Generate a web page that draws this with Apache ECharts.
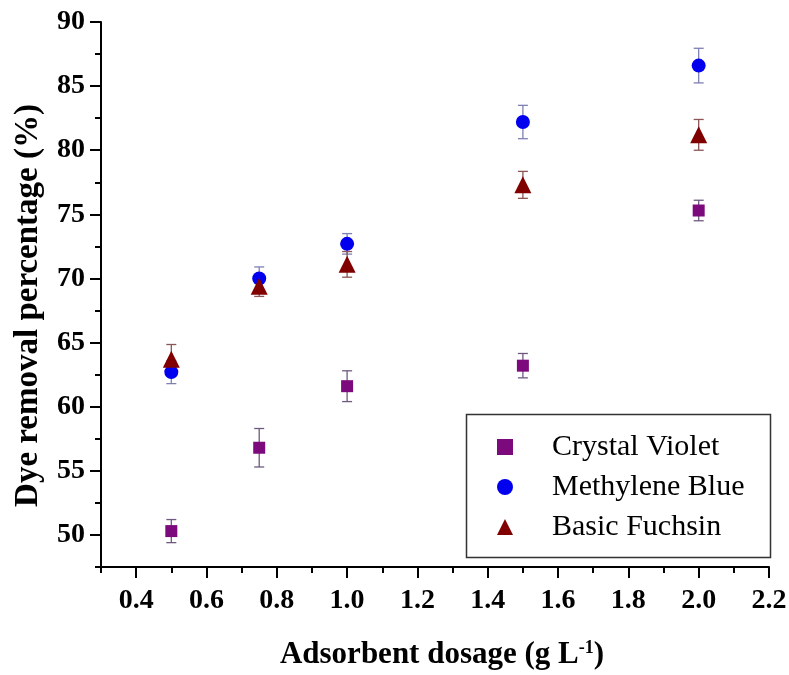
<!DOCTYPE html>
<html>
<head>
<meta charset="utf-8">
<script src="https://cdn.jsdelivr.net/npm/echarts@6/dist/echarts.min.js"></script>
<style>
  html, body { margin: 0; padding: 0; background: #fff; }
  #chart { width: 789px; height: 675px; }
</style>
</head>
<body>
<div id="chart"></div>
<script>
const dosage = [0.5, 0.75, 1.0, 1.5, 2.0]

const crystalViolet = [50.3, 56.8, 61.6, 63.2, 75.3]
const crystalVioletErr = [0.9, 1.5, 1.2, 0.95, 0.8]
const methyleneBlue = [62.7, 70.0, 72.7, 82.2, 86.6]
const methyleneBlueErr = [0.9, 0.9, 0.8, 1.3, 1.35]
const basicFuchsin = [63.7, 69.4, 71.1, 77.3, 81.2]
const basicFuchsinErr = [1.15, 0.8, 1.0, 1.05, 1.2]

const xMajor = [0.4, 0.6, 0.8, 1.0, 1.2, 1.4, 1.6, 1.8, 2.0, 2.2]
const xMinor = [0.3, 0.5, 0.7, 0.9, 1.1, 1.3, 1.5, 1.7, 1.9, 2.1]
const yMajor = [50, 55, 60, 65, 70, 75, 80, 85, 90]
const yMinor = [47.5, 52.5, 57.5, 62.5, 67.5, 72.5, 77.5, 82.5, 87.5]

const serif = 'Liberation Serif, Times New Roman, serif'
const axisLine = { lineStyle: { color: '#000', width: 2 } }

function errorBars (name, values, errs, color) {
  return {
    type: 'custom',
    name: name,
    silent: true,
    z: 1,
    encode: { x: 0, y: [1, 2] },
    data: dosage.map((x, i) => [x, values[i] - errs[i], values[i] + errs[i]]),
    renderItem: (params, api) => {
      const lo = api.coord([api.value(0), api.value(1)])
      const hi = api.coord([api.value(0), api.value(2)])
      const w = 5
      const style = { stroke: color, lineWidth: 1.3 }
      return {
        type: 'group',
        children: [
          { type: 'line', shape: { x1: lo[0], y1: lo[1], x2: hi[0], y2: hi[1] }, style },
          { type: 'line', shape: { x1: lo[0] - w, y1: lo[1], x2: lo[0] + w, y2: lo[1] }, style },
          { type: 'line', shape: { x1: hi[0] - w, y1: hi[1], x2: hi[0] + w, y2: hi[1] }, style }
        ]
      }
    }
  }
}

function points (name, values, symbol, size, color) {
  return {
    type: 'scatter',
    name: name,
    symbol: symbol,
    symbolSize: size,
    z: 3,
    itemStyle: { color: color, opacity: 1 },
    data: dosage.map((x, i) => [x, values[i]])
  }
}

const chart = echarts.init(document.getElementById('chart'))
chart.setOption({
  animation: false,
  backgroundColor: '#fff',
  grid: { left: 101, top: 22, width: 668, height: 545, outerBoundsMode: 'none' },
  xAxis: [
    {
      type: 'value', min: 0.3, max: 2.2, position: 'bottom',
      name: 'Adsorbent dosage (g L{sup|-1})',
      nameLocation: 'middle', nameGap: 72,
      nameTextStyle: {
        fontFamily: serif, fontSize: 31, fontWeight: 'bold', color: '#000',
        padding: [0, 0, 0, 14],
        rich: { sup: { fontFamily: serif, fontSize: 18, fontWeight: 'bold', color: '#000', verticalAlign: 'top' } }
      },
      axisLine: axisLine,
      axisTick: { customValues: xMajor, length: 11, lineStyle: { color: '#000', width: 2 } },
      axisLabel: {
        customValues: xMajor, margin: 20, color: '#000',
        fontFamily: serif, fontSize: 28, fontWeight: 'bold',
        formatter: v => v.toFixed(1)
      },
      splitLine: { show: false }
    },
    {
      type: 'value', min: 0.3, max: 2.2, position: 'bottom',
      axisLine: { show: false },
      axisTick: { customValues: xMinor, length: 6, lineStyle: { color: '#000', width: 2 } },
      axisLabel: { show: false },
      splitLine: { show: false }
    }
  ],
  yAxis: [
    {
      type: 'value', min: 47.5, max: 90, position: 'left',
      name: 'Dye removal percentage (%)',
      nameLocation: 'middle', nameGap: 56,
      nameTextStyle: {
        fontFamily: serif, fontSize: 33, fontWeight: 'bold', color: '#000',
        padding: [0, 22, 0, 0]
      },
      axisLine: axisLine,
      axisTick: { customValues: yMajor, length: 11, lineStyle: { color: '#000', width: 2 } },
      axisLabel: {
        customValues: yMajor, margin: 16, color: '#000',
        fontFamily: serif, fontSize: 28, fontWeight: 'bold'
      },
      splitLine: { show: false }
    },
    {
      type: 'value', min: 47.5, max: 90, position: 'left',
      axisLine: { show: false },
      axisTick: { customValues: yMinor, length: 6, lineStyle: { color: '#000', width: 2 } },
      axisLabel: { show: false },
      splitLine: { show: false }
    }
  ],
  legend: {
    data: ['Crystal Violet', 'Methylene Blue', 'Basic Fuchsin'],
    orient: 'vertical',
    left: 497, top: 432,
    padding: 0,
    itemWidth: 16, itemHeight: 16, itemGap: 10,
    selectedMode: false,
    textStyle: { fontFamily: serif, fontSize: 30, color: '#000', lineHeight: 28, padding: [0, 0, 0, 34] }
  },
  graphic: [
    {
      type: 'rect', left: 464, top: 412, z: 0,
      shape: { width: 304, height: 143 },
      style: { fill: 'none', stroke: '#333', lineWidth: 1.5 }
    }
  ],
  series: [
    errorBars('cv-err', crystalViolet, crystalVioletErr, '#6e5a80'),
    errorBars('mb-err', methyleneBlue, methyleneBlueErr, '#7e80b4'),
    errorBars('bf-err', basicFuchsin, basicFuchsinErr, '#8a5656'),
    points('Crystal Violet', crystalViolet, 'rect', 12, '#7d0a7d'),
    points('Methylene Blue', methyleneBlue, 'circle', 14, '#0000ee'),
    points('Basic Fuchsin', basicFuchsin, 'triangle', 17, '#800000')
  ]
})
</script>
</body>
</html>
